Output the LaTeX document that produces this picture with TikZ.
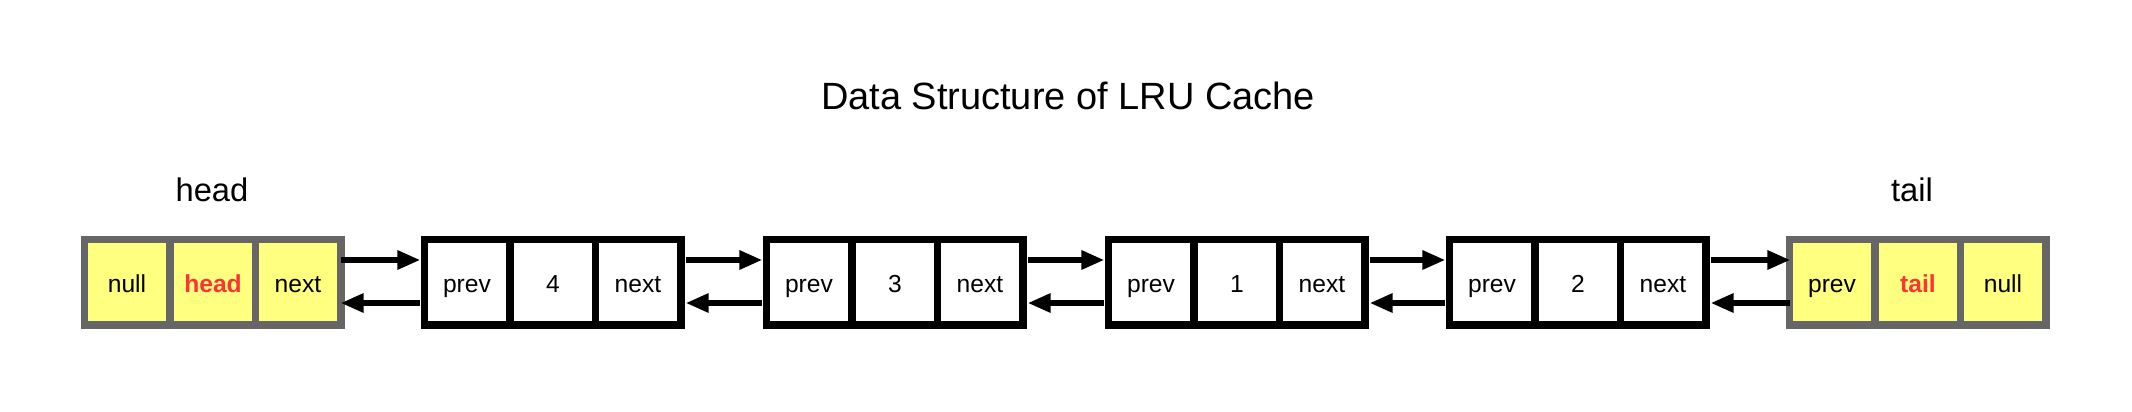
\documentclass[tikz,border=0pt]{standalone}
\usepackage{fontspec}
\setmainfont{Liberation Sans}
\usetikzlibrary{arrows.meta}
\definecolor{recgray}{HTML}{666666}
\definecolor{recyellow}{HTML}{FFFF80}
\definecolor{labred}{HTML}{FF3333}
\tikzset{
  rec/.style={draw=none, inner sep=0pt, minimum width=2.64cm, minimum height=0.93cm},
  cellbox/.style={draw=none, inner sep=0pt, minimum width=0.78cm, minimum height=0.78cm,
    font=\fontsize{7}{8}\selectfont, text height=5.7pt, text depth=0pt},
  ptr/.style={line width=1.5pt, -{Triangle[length=6.5pt,width=5.2pt]}},
  reclabel/.style={anchor=base, inner sep=0pt, font=\fontsize{9.3}{11}\selectfont},
  titlelabel/.style={anchor=base, inner sep=0pt, font=\fontsize{10.8}{13}\selectfont}
}
% name, left x, border colour, fill colour, three texts
\newcommand\lrurec[7]{%
  \node[rec, fill=#3] (#1) at (#2+132,282.5) {};
  \node[cellbox, fill=#4] (#1a) at (#2+46,282) {#5};
  \node[cellbox, fill=#4] (#1b) at (#2+132,282) {#6};
  \node[cellbox, fill=#4] (#1c) at (#2+217,282) {#7};
}
\begin{document}
\begin{tikzpicture}[x=0.01cm, y=-0.01cm]
  \useasboundingbox[fill=white] (0,0) rectangle (2132,412);
  \node[titlelabel] (title) at (1068,109.5) {Data Structure of LRU Cache};

  \lrurec{hd}{81}{recgray}{recyellow}{null}{\textcolor{labred}{\bfseries head}}{next}
  \lrurec{nf}{421}{black}{white}{prev}{4}{next}
  \lrurec{nt}{763}{black}{white}{prev}{3}{next}
  \lrurec{no}{1105}{black}{white}{prev}{1}{next}
  \lrurec{nw}{1446}{black}{white}{prev}{2}{next}
  \lrurec{tl}{1786}{recgray}{recyellow}{prev}{\textcolor{labred}{\bfseries tail}}{null}

  \node[reclabel] (headlbl) at (212,202) {head};
  \node[reclabel] (taillbl) at (1912,202) {tail};

  % forward pointers
  \draw[ptr] ([xshift=-0.05cm,yshift=0.225cm]hd.east) -- ([yshift=0.225cm]nf.west);
  \draw[ptr] ([yshift=0.225cm]nf.east) -- ([yshift=0.225cm]nt.west);
  \draw[ptr] ([yshift=0.225cm]nt.east) -- ([yshift=0.225cm]no.west);
  \draw[ptr] ([yshift=0.225cm]no.east) -- ([yshift=0.225cm]nw.west);
  \draw[ptr] ([yshift=0.225cm]nw.east) -- ([xshift=0.05cm,yshift=0.225cm]tl.west);
  % backward pointers
  \draw[ptr] ([yshift=-0.205cm]nf.west) -- ([xshift=-0.05cm,yshift=-0.205cm]hd.east);
  \draw[ptr] ([yshift=-0.205cm]nt.west) -- ([yshift=-0.205cm]nf.east);
  \draw[ptr] ([yshift=-0.205cm]no.west) -- ([yshift=-0.205cm]nt.east);
  \draw[ptr] ([yshift=-0.205cm]nw.west) -- ([yshift=-0.205cm]no.east);
  \draw[ptr] ([xshift=0.05cm,yshift=-0.205cm]tl.west) -- ([yshift=-0.205cm]nw.east);
\end{tikzpicture}
\end{document}
